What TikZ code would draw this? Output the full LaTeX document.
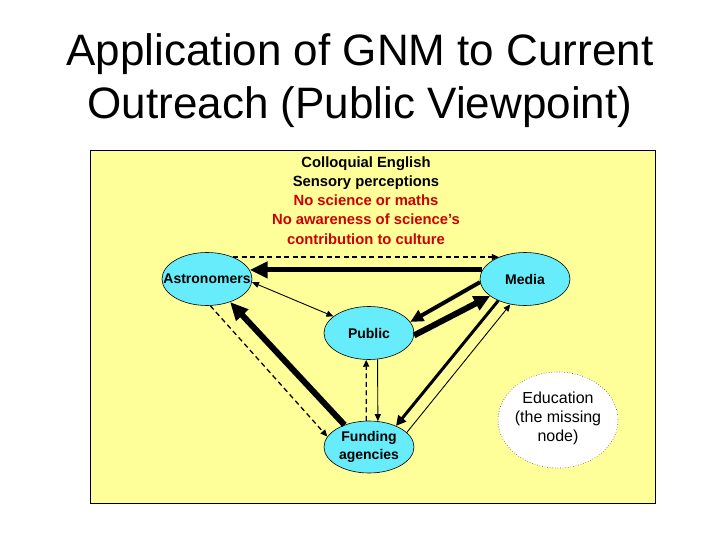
\documentclass[tikz,border=0pt]{standalone}
\usepackage{fontspec}
\setmainfont{Liberation Sans}
\usetikzlibrary{shapes.geometric,arrows.meta}
\definecolor{paleyellow}{RGB}{255,255,153}
\definecolor{nodecyan}{RGB}{102,236,250}
\definecolor{notered}{RGB}{204,0,0}

\begin{document}
\begin{tikzpicture}[x=1pt,y=-1pt,
  actor/.style={ellipse,draw=black,line width=0.6pt,fill=nodecyan,inner sep=0pt,
    minimum width=90pt,minimum height=53pt,align=center,
    font=\fontsize{14}{18}\selectfont\bfseries},
  missing/.style={ellipse,draw=black!70,dotted,line width=0.6pt,fill=white,inner sep=0pt,
    minimum width=120pt,minimum height=96pt,align=center,
    font=\fontsize{16}{19}\selectfont},
  link/.style={line width=0.9pt,-{Triangle[length=7pt,width=6pt]}},
  dashlink/.style={link,line width=1.3pt,dash pattern=on 5pt off 3.5pt},
  heavylink/.style={line width=5.5pt,-{Triangle[length=18pt,width=16pt]}}]
  \useasboundingbox (0,0) rectangle (720,540);
  \fill[white] (0,0) rectangle (720,540);
  \node[anchor=base,font=\fontsize{44}{53}\selectfont] (title1) at (360,66) {Application of GNM to Current};
  \node[anchor=base,font=\fontsize{44}{53}\selectfont] (title2) at (360,119) {Outreach (Public Viewpoint)};
  \draw[fill=paleyellow,line width=0.8pt] (90,150) rectangle (655,503);
  \foreach \c/\t [count=\r from 0] in {black/Colloquial English,black/Sensory perceptions,
      notered/No science or maths,notered/No awareness of science’s,notered/contribution to culture}{%
    \node[anchor=base,text=\c,font=\fontsize{14.8}{18}\selectfont\bfseries] (note\r) at (366,{168+\r*19}) {\t};
  }
  \node[actor] (astro) at (207,279) {\makebox[0pt]{Astronomers}};
  \node[actor] (media) at (525,279) {\makebox[0pt]{Media}};
  \node[actor] (public) at (369,333) {\makebox[0pt]{Public}};
  \node[actor,minimum height=52pt] (funding) at (369,447) {\makebox[0pt]{Funding}\\\makebox[0pt]{agencies}};
  \node[missing] (educ) at (558,420) {\raisebox{7pt}{\makebox[0pt]{Education}}\\\raisebox{7pt}{\makebox[0pt]{(the missing}}\\\raisebox{7pt}{\makebox[0pt]{node)}}};
  % astronomers <-> media
  \draw[dashlink] (astro.40) -- (media.140);
  \draw[heavylink,line width=5pt] (media.168) -- (astro.12);
  \draw[link,{Triangle[length=7pt,width=6pt]}-{Triangle[length=7pt,width=6pt]}] (astro.-4) -- (public.155);
  % media <-> public
  \draw[heavylink,line width=4pt,-{Triangle[length=13pt,width=12pt]}] (media.184) -- (public.15);
  \draw[heavylink,line width=6pt,-{Triangle[length=16pt,width=15pt]}] (public.-3) -- (media.206);
  % funding
  \draw[heavylink,line width=6pt] (funding.138) -- (astro.-45);
  \draw[dashlink] (astro.-83) -- (funding.166);
  \draw[dashlink] (funding.96) -- (public.264);
  \draw[link] (public.-72) -- (funding.71);
  \draw[heavylink,line width=3pt,-{Triangle[length=10pt,width=10pt]}] (media.219) -- (funding.38);
  \draw[link] (funding.21) -- (media.240);
\end{tikzpicture}
\end{document}
